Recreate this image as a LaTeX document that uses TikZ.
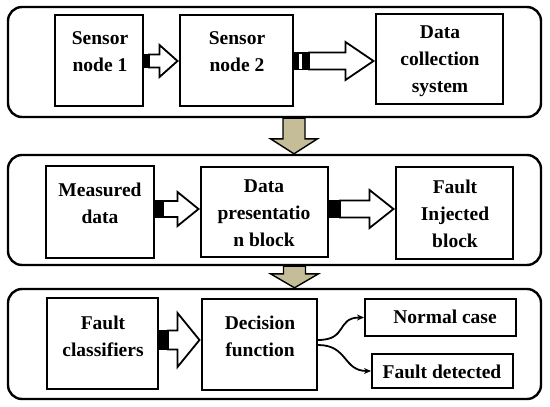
\documentclass[tikz,border=0pt]{standalone}
\usepackage{fontspec}
\setmainfont{Liberation Serif}
\usetikzlibrary{calc,arrows.meta}
\definecolor{tanc}{HTML}{C4BD97}
\tikzset{
  box/.style={draw, line width=2pt, rectangle, inner sep=0pt},
  panel/.style={draw, line width=2.4pt, rectangle, rounded corners=14pt, inner sep=0pt},
  txt/.style={font=\fontsize{19.5}{27}\selectfont\bfseries, align=center, inner sep=0pt},
  barrow/.style={draw=black, fill=white, line width=1.8pt, line join=miter},
  darrow/.style={draw=black, fill=tanc, line width=1.4pt, line join=miter},
  curv/.style={line width=1.8pt, -{Stealth[length=7pt,width=6pt]}}
}
\newcommand\bx[6][box]{\node[#1, minimum width={(#5-#3)*1pt}, minimum height={(#6-#4)*1pt}] (#2) at ({(#3+#5)/2},{(#4+#6)/2}) {};}
% block arrow: from, to, y, shaft half, head half, head length, black length
\newcommand\blk[7]{%
  \fill let \p1=(#1.east), \p2=(#2.west), \p3=(0,#3) in (\x1,\y3+#4pt+0.9pt) rectangle (\x1+#7pt,\y3-#4pt-0.9pt);
  \filldraw[barrow] let \p1=(#1.east), \p2=(#2.west), \p3=(0,#3) in
    (\x1+#7pt,\y3+#4pt) -- (\x2-#6pt-1.5pt,\y3+#4pt) -- (\x2-#6pt-1.5pt,\y3+#5pt) -- (\x2-1.5pt,\y3)
    -- (\x2-#6pt-1.5pt,\y3-#5pt) -- (\x2-#6pt-1.5pt,\y3-#4pt) -- (\x1+#7pt,\y3-#4pt) -- cycle;}
% down arrow: from panel, to panel, x, shaft half, head half, head length
\newcommand\darr[6]{%
  \filldraw[darrow] let \p1=(#1.south), \p2=(#2.north), \p3=(#3,0) in
    (\x3-#4pt,\y1) -- (\x3-#4pt,\y2+#6pt) -- (\x3-#5pt,\y2+#6pt) -- (\x3,\y2)
    -- (\x3+#5pt,\y2+#6pt) -- (\x3+#4pt,\y2+#6pt) -- (\x3+#4pt,\y1) -- cycle;}
\begin{document}
\begin{tikzpicture}[x=1pt,y=-1pt]
\useasboundingbox (0,0) rectangle (550,407);
\fill[white] (0,0) rectangle (550,407);
% panels
\bx[panel]{p1}{8}{7}{541}{117}
\bx[panel]{p2}{8}{155}{541}{265}
\bx[panel]{p3}{8}{289}{541}{399}
% boxes
\bx{s1}{55}{15}{143}{106}
\bx{s2}{180}{15}{293}{106}
\bx{dc}{376}{14}{503}{104}
\bx{md}{46}{166}{154}{258}
\bx{dp}{201}{167}{328}{257}
\bx{fi}{396}{167}{513}{259}
\bx{fc}{47}{298}{158}{389}
\bx{df}{202}{299}{317}{390}
\bx{nc}{365}{299}{516}{336}
\bx{fd}{372}{354}{513}{388}
% texts
\node[txt] (ts1) at (100,51.5) {Sensor\\node 1};
\node[txt] (ts2) at (237,51.5) {Sensor\\node 2};
\node[txt] (tdc) at (440,61.5) {Data\\collection\\system};
\node[txt] (tmd) at (100,203.5) {Measured\\data};
\node[txt] (tdp) at (264,213.5) {Data\\presentatio\\n block};
\node[txt] (tfi) at (455,214) {Fault\\Injected\\block};
\node[txt] (tfc) at (103,336) {Fault\\classifiers};
\node[txt] (tdf) at (260,336) {Decision\\function};
\node[txt] (tnc) at (445,317) {Normal case};
\node[txt] (tfd) at (442,372) {Fault detected};
% block arrows
\blk{s1}{s2}{61}{6.5}{16}{18}{5}
\blk{s2}{dc}{61}{8.5}{19}{28}{15}
\fill[white] (299,53.5) rectangle (301.5,68.5);
\blk{md}{dp}{209}{8}{17}{21}{8}
\blk{dp}{fi}{209}{8.5}{19}{24}{11}
\blk{fc}{df}{340}{9.5}{27}{22}{9}
% down arrows
\darr{p1}{p2}{294}{11}{23.5}{15}
\darr{p2}{p3}{294.5}{11}{24}{14}
% curved arrows
\draw[curv] ([yshift=4.5pt]df.east) .. controls +(30,0) and +(-28,0) .. (nc.west);
\draw[curv] ([yshift=-0.5pt]df.east) .. controls +(30,0) and +(-28,0) .. (fd.west);
\end{tikzpicture}
\end{document}
